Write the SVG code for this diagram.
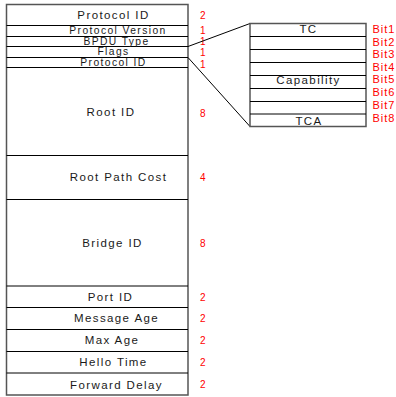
<svg xmlns="http://www.w3.org/2000/svg" width="396" height="397" viewBox="0 0 396 397">
<style>
.box{fill:#fff;stroke:#555;stroke-width:1.5}
.ln{stroke:#000;stroke-width:1;fill:none}
.t{font-family:"Liberation Sans",Arial,sans-serif;font-size:11.5px;letter-spacing:1.4px;fill:#1a1a1a;text-anchor:middle}
.s{font-size:10.3px;letter-spacing:1.4px}
.n{font-family:"Liberation Sans",Arial,sans-serif;font-size:10px;fill:#f00}
.b{font-family:"Liberation Sans",Arial,sans-serif;font-size:11px;letter-spacing:1px;fill:#f00}
</style>
<rect width="396" height="397" fill="#fff"/>
<g id="frame-table">
<rect class="box" x="6.5" y="4.5" width="181.5" height="390.5"/>
</g>
<g id="row-protocol-id"><line class="ln" x1="6.5" y1="25.5" x2="188" y2="25.5"/><text class="t" x="113.5" y="19">Protocol ID</text><text class="n" x="200" y="18.5">2</text></g>
<g id="row-protocol-version"><line class="ln" x1="6.5" y1="36.5" x2="188" y2="36.5"/><text class="t s" x="118" y="34">Protocol Version</text><text class="n" x="200" y="33.5">1</text></g>
<g id="row-bpdu-type"><line class="ln" x1="6.5" y1="46.5" x2="188" y2="46.5"/><text class="t s" x="116.5" y="44.5">BPDU Type</text><text class="n" x="200" y="44.5">1</text></g>
<g id="row-flags"><line class="ln" x1="6.5" y1="57.5" x2="188" y2="57.5"/><text class="t s" x="113.5" y="54.5">Flags</text><text class="n" x="200" y="56">1</text></g>
<g id="row-protocol-id-2"><line class="ln" x1="6.5" y1="67.5" x2="188" y2="67.5"/><text class="t s" x="113.5" y="65.5">Protocol ID</text><text class="n" x="200" y="67.5">1</text></g>
<g id="row-root-id"><line class="ln" x1="6.5" y1="155.5" x2="188" y2="155.5"/><text class="t" x="111" y="116">Root ID</text><text class="n" x="200" y="116.5">8</text></g>
<g id="row-root-path-cost"><line class="ln" x1="6.5" y1="199.5" x2="188" y2="199.5"/><text class="t" x="118.5" y="181">Root Path Cost</text><text class="n" x="200" y="181">4</text></g>
<g id="row-bridge-id"><line class="ln" x1="6.5" y1="286" x2="188" y2="286"/><text class="t" x="112.5" y="247">Bridge ID</text><text class="n" x="200" y="247">8</text></g>
<g id="row-port-id"><line class="ln" x1="6.5" y1="307.5" x2="188" y2="307.5"/><text class="t" x="110.5" y="301">Port ID</text><text class="n" x="200" y="300.5">2</text></g>
<g id="row-message-age"><line class="ln" x1="6.5" y1="329.5" x2="188" y2="329.5"/><text class="t" x="116.5" y="322">Message Age</text><text class="n" x="200" y="322">2</text></g>
<g id="row-max-age"><line class="ln" x1="6.5" y1="351.5" x2="188" y2="351.5"/><text class="t" x="112" y="344">Max Age</text><text class="n" x="200" y="344">2</text></g>
<g id="row-hello-time"><line class="ln" x1="6.5" y1="373" x2="188" y2="373"/><text class="t" x="113.5" y="366">Hello Time</text><text class="n" x="200" y="366">2</text></g>
<g id="row-forward-delay"><text class="t" x="116.5" y="388.5">Forward Delay</text><text class="n" x="200" y="388">2</text></g>
<g id="connectors">
<line class="ln" x1="188" y1="46.5" x2="250" y2="23.5"/>
<line class="ln" x1="188" y1="57.5" x2="250" y2="126.5"/>
</g>
<g id="flags-table">
<rect class="box" x="250" y="23.5" width="116" height="103"/>
<line class="ln" x1="250" y1="36.5" x2="366" y2="36.5"/>
<line class="ln" x1="250" y1="49.5" x2="366" y2="49.5"/>
<line class="ln" x1="250" y1="62.5" x2="366" y2="62.5"/>
<line class="ln" x1="250" y1="75.5" x2="366" y2="75.5"/>
<line class="ln" x1="250" y1="88.5" x2="366" y2="88.5"/>
<line class="ln" x1="250" y1="101.5" x2="366" y2="101.5"/>
<line class="ln" x1="250" y1="114" x2="366" y2="114"/>
<text class="t" x="308.5" y="33">TC</text>
<text class="t" x="308.5" y="84">Capability</text>
<text class="t" x="309" y="125">TCA</text>
</g>
<g id="bit-labels">
<text class="b" x="372.5" y="33">Bit1</text>
<text class="b" x="372.5" y="45.5">Bit2</text>
<text class="b" x="372.5" y="58">Bit3</text>
<text class="b" x="372.5" y="70.5">Bit4</text>
<text class="b" x="372.5" y="83">Bit5</text>
<text class="b" x="372.5" y="96">Bit6</text>
<text class="b" x="372.5" y="108.5">Bit7</text>
<text class="b" x="372.5" y="121.5">Bit8</text>
</g>
</svg>
